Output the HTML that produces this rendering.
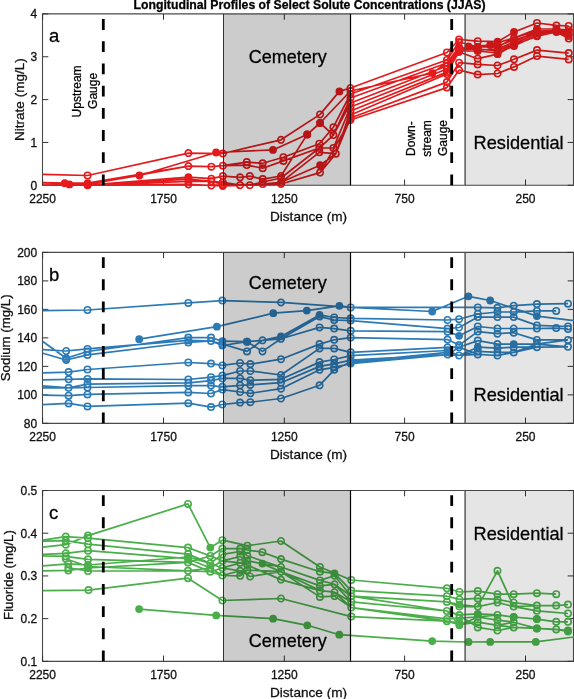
<!DOCTYPE html><html><head><meta charset="utf-8"><style>html,body{margin:0;padding:0;background:#fff;width:574px;height:699px;overflow:hidden}svg{display:block;will-change:transform}text{font-family:"Liberation Sans",sans-serif;stroke:#111;stroke-width:0.3;paint-order:stroke}</style></head><body>
<svg width="574" height="699" viewBox="0 0 574 699">
<rect width="574" height="699" fill="#fff"/>
<text x="309.6" y="8.6" font-size="12" font-weight="bold" text-anchor="middle" textLength="352" lengthAdjust="spacingAndGlyphs" fill="#000">Longitudinal Profiles of Select Solute Concentrations (JJAS)</text>
<g id="panel-a">
<path d="M42.5 13.9H573.5V185.3H42.5Z" fill="none" stroke="#4a4a4a" stroke-width="1.1"/>
<path d="M42.60 185.3v-5.8M42.60 13.9v5.8M163.50 185.3v-5.8M163.50 13.9v5.8M284.30 185.3v-5.8M284.30 13.9v5.8M404.60 185.3v-5.8M404.60 13.9v5.8M525.50 185.3v-5.8M525.50 13.9v5.8M42.5 185.30h5.8M573.5 185.30h-5.8M42.5 142.45h5.8M573.5 142.45h-5.8M42.5 99.60h5.8M573.5 99.60h-5.8M42.5 56.75h5.8M573.5 56.75h-5.8M42.5 13.90h5.8M573.5 13.90h-5.8" stroke="#333" stroke-width="1" fill="none"/>
<path d="M42.8 174.4 L87.6 175.5 L188.4 153.1 L222.9 153.5 L281.0 139.8 L320.1 114.4 L339.4 91.4 L350.5 88.0 L446.9 52.5 L459.1 39.5 L477.7 41.2 L497.6 41.7 L514.0 32.0 L537.0 23.0 L556.4 25.4 L568.7 26.0 M42.8 184.0 L69.4 184.4 L87.6 184.2 L139.4 175.5 L216.1 152.5 L273.0 149.9 L307.2 134.4 L320.1 123.0 L350.5 91.0 L432.5 73.1 L468.5 46.5 L490.2 45.0 L537.0 31.0 L574.0 30.0 M42.8 182.6 L64.8 183.2 L87.6 183.2 L188.4 166.1 L211.4 166.7 L222.9 165.7 L246.8 162.1 L262.7 163.3 L283.4 157.2 L319.3 143.7 L333.4 127.2 L350.5 94.0 L446.9 60.0 L459.1 42.0 L477.7 47.0 L497.6 47.0 L514.0 38.0 L537.0 29.0 L556.4 29.0 L568.7 30.0 M42.8 184.5 L87.6 184.5 L188.4 166.1 L211.4 166.7 L222.9 165.7 L246.8 165.1 L262.7 168.2 L283.4 160.9 L319.3 148.0 L333.4 135.1 L350.5 98.0 L446.9 63.0 L459.1 47.0 L477.7 50.0 L497.6 49.0 L514.0 42.0 L537.0 31.0 L556.4 31.0 L568.7 32.0 M42.8 185.0 L87.6 185.0 L188.4 177.1 L211.4 178.7 L222.9 176.1 L240.1 177.3 L249.9 176.1 L262.7 179.1 L281.0 176.0 L307.2 134.4 L320.1 123.0 L333.4 135.1 L350.5 103.0 L446.9 66.0 L459.1 49.0 L477.7 49.0 L497.6 51.0 L514.0 44.0 L537.0 33.0 L556.4 32.0 L568.7 34.0 M42.8 185.0 L87.6 185.0 L188.4 179.2 L211.4 181.3 L222.9 182.3 L240.1 185.2 L249.9 185.2 L262.7 182.0 L281.0 178.0 L319.3 148.0 L333.4 148.0 L350.5 107.0 L446.9 69.0 L459.1 51.0 L477.7 51.0 L497.6 53.0 L514.0 45.9 L537.0 35.0 L556.4 32.0 L568.7 36.0 M42.8 185.2 L87.6 185.2 L188.4 181.3 L211.4 181.3 L222.9 184.6 L240.1 185.2 L249.9 185.2 L262.7 184.0 L281.0 182.3 L319.3 152.3 L335.8 153.7 L350.5 111.0 L446.9 72.1 L459.1 52.0 L477.7 58.7 L497.6 54.2 L514.0 45.0 L537.0 36.2 L556.4 32.0 L568.7 38.6 M42.8 185.2 L87.6 185.2 L188.4 184.4 L211.4 185.5 L222.9 186.0 L249.9 185.2 L281.0 182.3 L320.1 165.2 L335.8 153.7 L350.5 115.0 L446.9 74.0 L459.1 50.0 L477.7 47.0 L497.6 46.0 L514.0 40.0 L537.0 33.0 L556.4 30.0 L568.7 34.0 M42.8 185.2 L87.6 185.2 L188.4 184.4 L211.4 185.5 L222.9 184.6 L249.9 185.2 L281.0 184.0 L320.1 172.6 L335.8 153.7 L350.5 118.0 L446.9 82.1 L459.1 62.7 L477.7 64.4 L497.6 65.5 L514.0 59.3 L537.0 50.1 L568.7 53.1 M42.8 185.2 L87.6 185.2 L188.4 184.4 L211.4 185.5 L222.9 184.6 L281.0 184.0 L320.1 172.6 L350.5 120.0 L446.9 87.6 L459.1 70.1 L477.7 74.6 L497.6 73.5 L514.0 66.9 L537.0 56.1 L568.7 59.4" fill="none" stroke="#e41a1c" stroke-width="1.7" stroke-linejoin="round"/>
<path d="M84.4 175.5a3.2 3.2 0 1 0 6.4 0a3.2 3.2 0 1 0 -6.4 0M185.2 153.1a3.2 3.2 0 1 0 6.4 0a3.2 3.2 0 1 0 -6.4 0M219.7 153.5a3.2 3.2 0 1 0 6.4 0a3.2 3.2 0 1 0 -6.4 0M277.8 139.8a3.2 3.2 0 1 0 6.4 0a3.2 3.2 0 1 0 -6.4 0M316.9 114.4a3.2 3.2 0 1 0 6.4 0a3.2 3.2 0 1 0 -6.4 0M347.3 88.0a3.2 3.2 0 1 0 6.4 0a3.2 3.2 0 1 0 -6.4 0M443.7 52.5a3.2 3.2 0 1 0 6.4 0a3.2 3.2 0 1 0 -6.4 0M455.9 39.5a3.2 3.2 0 1 0 6.4 0a3.2 3.2 0 1 0 -6.4 0M474.5 41.2a3.2 3.2 0 1 0 6.4 0a3.2 3.2 0 1 0 -6.4 0M533.8 23.0a3.2 3.2 0 1 0 6.4 0a3.2 3.2 0 1 0 -6.4 0M553.2 25.4a3.2 3.2 0 1 0 6.4 0a3.2 3.2 0 1 0 -6.4 0M565.5 26.0a3.2 3.2 0 1 0 6.4 0a3.2 3.2 0 1 0 -6.4 0M347.3 91.0a3.2 3.2 0 1 0 6.4 0a3.2 3.2 0 1 0 -6.4 0M185.2 166.1a3.2 3.2 0 1 0 6.4 0a3.2 3.2 0 1 0 -6.4 0M208.2 166.7a3.2 3.2 0 1 0 6.4 0a3.2 3.2 0 1 0 -6.4 0M219.7 165.7a3.2 3.2 0 1 0 6.4 0a3.2 3.2 0 1 0 -6.4 0M243.6 162.1a3.2 3.2 0 1 0 6.4 0a3.2 3.2 0 1 0 -6.4 0M259.5 163.3a3.2 3.2 0 1 0 6.4 0a3.2 3.2 0 1 0 -6.4 0M280.2 157.2a3.2 3.2 0 1 0 6.4 0a3.2 3.2 0 1 0 -6.4 0M316.1 143.7a3.2 3.2 0 1 0 6.4 0a3.2 3.2 0 1 0 -6.4 0M330.2 127.2a3.2 3.2 0 1 0 6.4 0a3.2 3.2 0 1 0 -6.4 0M347.3 94.0a3.2 3.2 0 1 0 6.4 0a3.2 3.2 0 1 0 -6.4 0M443.7 60.0a3.2 3.2 0 1 0 6.4 0a3.2 3.2 0 1 0 -6.4 0M455.9 42.0a3.2 3.2 0 1 0 6.4 0a3.2 3.2 0 1 0 -6.4 0M474.5 47.0a3.2 3.2 0 1 0 6.4 0a3.2 3.2 0 1 0 -6.4 0M510.8 38.0a3.2 3.2 0 1 0 6.4 0a3.2 3.2 0 1 0 -6.4 0M533.8 29.0a3.2 3.2 0 1 0 6.4 0a3.2 3.2 0 1 0 -6.4 0M553.2 29.0a3.2 3.2 0 1 0 6.4 0a3.2 3.2 0 1 0 -6.4 0M565.5 30.0a3.2 3.2 0 1 0 6.4 0a3.2 3.2 0 1 0 -6.4 0M84.4 184.5a3.2 3.2 0 1 0 6.4 0a3.2 3.2 0 1 0 -6.4 0M185.2 166.1a3.2 3.2 0 1 0 6.4 0a3.2 3.2 0 1 0 -6.4 0M208.2 166.7a3.2 3.2 0 1 0 6.4 0a3.2 3.2 0 1 0 -6.4 0M219.7 165.7a3.2 3.2 0 1 0 6.4 0a3.2 3.2 0 1 0 -6.4 0M243.6 165.1a3.2 3.2 0 1 0 6.4 0a3.2 3.2 0 1 0 -6.4 0M259.5 168.2a3.2 3.2 0 1 0 6.4 0a3.2 3.2 0 1 0 -6.4 0M280.2 160.9a3.2 3.2 0 1 0 6.4 0a3.2 3.2 0 1 0 -6.4 0M316.1 148.0a3.2 3.2 0 1 0 6.4 0a3.2 3.2 0 1 0 -6.4 0M330.2 135.1a3.2 3.2 0 1 0 6.4 0a3.2 3.2 0 1 0 -6.4 0M347.3 98.0a3.2 3.2 0 1 0 6.4 0a3.2 3.2 0 1 0 -6.4 0M443.7 63.0a3.2 3.2 0 1 0 6.4 0a3.2 3.2 0 1 0 -6.4 0M455.9 47.0a3.2 3.2 0 1 0 6.4 0a3.2 3.2 0 1 0 -6.4 0M474.5 50.0a3.2 3.2 0 1 0 6.4 0a3.2 3.2 0 1 0 -6.4 0M494.4 49.0a3.2 3.2 0 1 0 6.4 0a3.2 3.2 0 1 0 -6.4 0M533.8 31.0a3.2 3.2 0 1 0 6.4 0a3.2 3.2 0 1 0 -6.4 0M553.2 31.0a3.2 3.2 0 1 0 6.4 0a3.2 3.2 0 1 0 -6.4 0M84.4 185.0a3.2 3.2 0 1 0 6.4 0a3.2 3.2 0 1 0 -6.4 0M208.2 178.7a3.2 3.2 0 1 0 6.4 0a3.2 3.2 0 1 0 -6.4 0M219.7 176.1a3.2 3.2 0 1 0 6.4 0a3.2 3.2 0 1 0 -6.4 0M236.9 177.3a3.2 3.2 0 1 0 6.4 0a3.2 3.2 0 1 0 -6.4 0M246.7 176.1a3.2 3.2 0 1 0 6.4 0a3.2 3.2 0 1 0 -6.4 0M259.5 179.1a3.2 3.2 0 1 0 6.4 0a3.2 3.2 0 1 0 -6.4 0M277.8 176.0a3.2 3.2 0 1 0 6.4 0a3.2 3.2 0 1 0 -6.4 0M304.0 134.4a3.2 3.2 0 1 0 6.4 0a3.2 3.2 0 1 0 -6.4 0M316.9 123.0a3.2 3.2 0 1 0 6.4 0a3.2 3.2 0 1 0 -6.4 0M330.2 135.1a3.2 3.2 0 1 0 6.4 0a3.2 3.2 0 1 0 -6.4 0M347.3 103.0a3.2 3.2 0 1 0 6.4 0a3.2 3.2 0 1 0 -6.4 0M443.7 66.0a3.2 3.2 0 1 0 6.4 0a3.2 3.2 0 1 0 -6.4 0M553.2 32.0a3.2 3.2 0 1 0 6.4 0a3.2 3.2 0 1 0 -6.4 0M84.4 185.0a3.2 3.2 0 1 0 6.4 0a3.2 3.2 0 1 0 -6.4 0M185.2 179.2a3.2 3.2 0 1 0 6.4 0a3.2 3.2 0 1 0 -6.4 0M208.2 181.3a3.2 3.2 0 1 0 6.4 0a3.2 3.2 0 1 0 -6.4 0M219.7 182.3a3.2 3.2 0 1 0 6.4 0a3.2 3.2 0 1 0 -6.4 0M236.9 185.2a3.2 3.2 0 1 0 6.4 0a3.2 3.2 0 1 0 -6.4 0M246.7 185.2a3.2 3.2 0 1 0 6.4 0a3.2 3.2 0 1 0 -6.4 0M259.5 182.0a3.2 3.2 0 1 0 6.4 0a3.2 3.2 0 1 0 -6.4 0M277.8 178.0a3.2 3.2 0 1 0 6.4 0a3.2 3.2 0 1 0 -6.4 0M316.1 148.0a3.2 3.2 0 1 0 6.4 0a3.2 3.2 0 1 0 -6.4 0M330.2 148.0a3.2 3.2 0 1 0 6.4 0a3.2 3.2 0 1 0 -6.4 0M347.3 107.0a3.2 3.2 0 1 0 6.4 0a3.2 3.2 0 1 0 -6.4 0M443.7 69.0a3.2 3.2 0 1 0 6.4 0a3.2 3.2 0 1 0 -6.4 0M455.9 51.0a3.2 3.2 0 1 0 6.4 0a3.2 3.2 0 1 0 -6.4 0M474.5 51.0a3.2 3.2 0 1 0 6.4 0a3.2 3.2 0 1 0 -6.4 0M494.4 53.0a3.2 3.2 0 1 0 6.4 0a3.2 3.2 0 1 0 -6.4 0M510.8 45.9a3.2 3.2 0 1 0 6.4 0a3.2 3.2 0 1 0 -6.4 0M533.8 35.0a3.2 3.2 0 1 0 6.4 0a3.2 3.2 0 1 0 -6.4 0M553.2 32.0a3.2 3.2 0 1 0 6.4 0a3.2 3.2 0 1 0 -6.4 0M565.5 36.0a3.2 3.2 0 1 0 6.4 0a3.2 3.2 0 1 0 -6.4 0M84.4 185.2a3.2 3.2 0 1 0 6.4 0a3.2 3.2 0 1 0 -6.4 0M185.2 181.3a3.2 3.2 0 1 0 6.4 0a3.2 3.2 0 1 0 -6.4 0M208.2 181.3a3.2 3.2 0 1 0 6.4 0a3.2 3.2 0 1 0 -6.4 0M219.7 184.6a3.2 3.2 0 1 0 6.4 0a3.2 3.2 0 1 0 -6.4 0M236.9 185.2a3.2 3.2 0 1 0 6.4 0a3.2 3.2 0 1 0 -6.4 0M246.7 185.2a3.2 3.2 0 1 0 6.4 0a3.2 3.2 0 1 0 -6.4 0M259.5 184.0a3.2 3.2 0 1 0 6.4 0a3.2 3.2 0 1 0 -6.4 0M277.8 182.3a3.2 3.2 0 1 0 6.4 0a3.2 3.2 0 1 0 -6.4 0M316.1 152.3a3.2 3.2 0 1 0 6.4 0a3.2 3.2 0 1 0 -6.4 0M332.6 153.7a3.2 3.2 0 1 0 6.4 0a3.2 3.2 0 1 0 -6.4 0M347.3 111.0a3.2 3.2 0 1 0 6.4 0a3.2 3.2 0 1 0 -6.4 0M443.7 72.1a3.2 3.2 0 1 0 6.4 0a3.2 3.2 0 1 0 -6.4 0M455.9 52.0a3.2 3.2 0 1 0 6.4 0a3.2 3.2 0 1 0 -6.4 0M474.5 58.7a3.2 3.2 0 1 0 6.4 0a3.2 3.2 0 1 0 -6.4 0M510.8 45.0a3.2 3.2 0 1 0 6.4 0a3.2 3.2 0 1 0 -6.4 0M533.8 36.2a3.2 3.2 0 1 0 6.4 0a3.2 3.2 0 1 0 -6.4 0M553.2 32.0a3.2 3.2 0 1 0 6.4 0a3.2 3.2 0 1 0 -6.4 0M565.5 38.6a3.2 3.2 0 1 0 6.4 0a3.2 3.2 0 1 0 -6.4 0M84.4 185.2a3.2 3.2 0 1 0 6.4 0a3.2 3.2 0 1 0 -6.4 0M185.2 184.4a3.2 3.2 0 1 0 6.4 0a3.2 3.2 0 1 0 -6.4 0M208.2 185.5a3.2 3.2 0 1 0 6.4 0a3.2 3.2 0 1 0 -6.4 0M219.7 186.0a3.2 3.2 0 1 0 6.4 0a3.2 3.2 0 1 0 -6.4 0M246.7 185.2a3.2 3.2 0 1 0 6.4 0a3.2 3.2 0 1 0 -6.4 0M277.8 182.3a3.2 3.2 0 1 0 6.4 0a3.2 3.2 0 1 0 -6.4 0M332.6 153.7a3.2 3.2 0 1 0 6.4 0a3.2 3.2 0 1 0 -6.4 0M347.3 115.0a3.2 3.2 0 1 0 6.4 0a3.2 3.2 0 1 0 -6.4 0M443.7 74.0a3.2 3.2 0 1 0 6.4 0a3.2 3.2 0 1 0 -6.4 0M455.9 50.0a3.2 3.2 0 1 0 6.4 0a3.2 3.2 0 1 0 -6.4 0M494.4 46.0a3.2 3.2 0 1 0 6.4 0a3.2 3.2 0 1 0 -6.4 0M510.8 40.0a3.2 3.2 0 1 0 6.4 0a3.2 3.2 0 1 0 -6.4 0M533.8 33.0a3.2 3.2 0 1 0 6.4 0a3.2 3.2 0 1 0 -6.4 0M553.2 30.0a3.2 3.2 0 1 0 6.4 0a3.2 3.2 0 1 0 -6.4 0M565.5 34.0a3.2 3.2 0 1 0 6.4 0a3.2 3.2 0 1 0 -6.4 0M84.4 185.2a3.2 3.2 0 1 0 6.4 0a3.2 3.2 0 1 0 -6.4 0M185.2 184.4a3.2 3.2 0 1 0 6.4 0a3.2 3.2 0 1 0 -6.4 0M208.2 185.5a3.2 3.2 0 1 0 6.4 0a3.2 3.2 0 1 0 -6.4 0M219.7 184.6a3.2 3.2 0 1 0 6.4 0a3.2 3.2 0 1 0 -6.4 0M246.7 185.2a3.2 3.2 0 1 0 6.4 0a3.2 3.2 0 1 0 -6.4 0M277.8 184.0a3.2 3.2 0 1 0 6.4 0a3.2 3.2 0 1 0 -6.4 0M316.9 172.6a3.2 3.2 0 1 0 6.4 0a3.2 3.2 0 1 0 -6.4 0M332.6 153.7a3.2 3.2 0 1 0 6.4 0a3.2 3.2 0 1 0 -6.4 0M347.3 118.0a3.2 3.2 0 1 0 6.4 0a3.2 3.2 0 1 0 -6.4 0M443.7 82.1a3.2 3.2 0 1 0 6.4 0a3.2 3.2 0 1 0 -6.4 0M455.9 62.7a3.2 3.2 0 1 0 6.4 0a3.2 3.2 0 1 0 -6.4 0M474.5 64.4a3.2 3.2 0 1 0 6.4 0a3.2 3.2 0 1 0 -6.4 0M494.4 65.5a3.2 3.2 0 1 0 6.4 0a3.2 3.2 0 1 0 -6.4 0M510.8 59.3a3.2 3.2 0 1 0 6.4 0a3.2 3.2 0 1 0 -6.4 0M533.8 50.1a3.2 3.2 0 1 0 6.4 0a3.2 3.2 0 1 0 -6.4 0M565.5 53.1a3.2 3.2 0 1 0 6.4 0a3.2 3.2 0 1 0 -6.4 0M84.4 185.2a3.2 3.2 0 1 0 6.4 0a3.2 3.2 0 1 0 -6.4 0M185.2 184.4a3.2 3.2 0 1 0 6.4 0a3.2 3.2 0 1 0 -6.4 0M208.2 185.5a3.2 3.2 0 1 0 6.4 0a3.2 3.2 0 1 0 -6.4 0M219.7 184.6a3.2 3.2 0 1 0 6.4 0a3.2 3.2 0 1 0 -6.4 0M277.8 184.0a3.2 3.2 0 1 0 6.4 0a3.2 3.2 0 1 0 -6.4 0M316.9 172.6a3.2 3.2 0 1 0 6.4 0a3.2 3.2 0 1 0 -6.4 0M347.3 120.0a3.2 3.2 0 1 0 6.4 0a3.2 3.2 0 1 0 -6.4 0M443.7 87.6a3.2 3.2 0 1 0 6.4 0a3.2 3.2 0 1 0 -6.4 0M455.9 70.1a3.2 3.2 0 1 0 6.4 0a3.2 3.2 0 1 0 -6.4 0M474.5 74.6a3.2 3.2 0 1 0 6.4 0a3.2 3.2 0 1 0 -6.4 0M494.4 73.5a3.2 3.2 0 1 0 6.4 0a3.2 3.2 0 1 0 -6.4 0M510.8 66.9a3.2 3.2 0 1 0 6.4 0a3.2 3.2 0 1 0 -6.4 0M533.8 56.1a3.2 3.2 0 1 0 6.4 0a3.2 3.2 0 1 0 -6.4 0M565.5 59.4a3.2 3.2 0 1 0 6.4 0a3.2 3.2 0 1 0 -6.4 0" fill="none" stroke="#e41a1c" stroke-width="1.6"/>
<path d="M335.5 91.4a3.9 3.9 0 1 0 7.8 0a3.9 3.9 0 1 0 -7.8 0M493.7 41.7a3.9 3.9 0 1 0 7.8 0a3.9 3.9 0 1 0 -7.8 0M510.1 32.0a3.9 3.9 0 1 0 7.8 0a3.9 3.9 0 1 0 -7.8 0M65.5 184.4a3.9 3.9 0 1 0 7.8 0a3.9 3.9 0 1 0 -7.8 0M83.7 184.2a3.9 3.9 0 1 0 7.8 0a3.9 3.9 0 1 0 -7.8 0M135.5 175.5a3.9 3.9 0 1 0 7.8 0a3.9 3.9 0 1 0 -7.8 0M212.2 152.5a3.9 3.9 0 1 0 7.8 0a3.9 3.9 0 1 0 -7.8 0M269.1 149.9a3.9 3.9 0 1 0 7.8 0a3.9 3.9 0 1 0 -7.8 0M303.3 134.4a3.9 3.9 0 1 0 7.8 0a3.9 3.9 0 1 0 -7.8 0M316.2 123.0a3.9 3.9 0 1 0 7.8 0a3.9 3.9 0 1 0 -7.8 0M428.6 73.1a3.9 3.9 0 1 0 7.8 0a3.9 3.9 0 1 0 -7.8 0M464.6 46.5a3.9 3.9 0 1 0 7.8 0a3.9 3.9 0 1 0 -7.8 0M486.3 45.0a3.9 3.9 0 1 0 7.8 0a3.9 3.9 0 1 0 -7.8 0M533.1 31.0a3.9 3.9 0 1 0 7.8 0a3.9 3.9 0 1 0 -7.8 0M60.9 183.2a3.9 3.9 0 1 0 7.8 0a3.9 3.9 0 1 0 -7.8 0M83.7 183.2a3.9 3.9 0 1 0 7.8 0a3.9 3.9 0 1 0 -7.8 0M493.7 47.0a3.9 3.9 0 1 0 7.8 0a3.9 3.9 0 1 0 -7.8 0M510.1 42.0a3.9 3.9 0 1 0 7.8 0a3.9 3.9 0 1 0 -7.8 0M564.8 32.0a3.9 3.9 0 1 0 7.8 0a3.9 3.9 0 1 0 -7.8 0M184.5 177.1a3.9 3.9 0 1 0 7.8 0a3.9 3.9 0 1 0 -7.8 0M455.2 49.0a3.9 3.9 0 1 0 7.8 0a3.9 3.9 0 1 0 -7.8 0M473.8 49.0a3.9 3.9 0 1 0 7.8 0a3.9 3.9 0 1 0 -7.8 0M493.7 51.0a3.9 3.9 0 1 0 7.8 0a3.9 3.9 0 1 0 -7.8 0M510.1 44.0a3.9 3.9 0 1 0 7.8 0a3.9 3.9 0 1 0 -7.8 0M533.1 33.0a3.9 3.9 0 1 0 7.8 0a3.9 3.9 0 1 0 -7.8 0M564.8 34.0a3.9 3.9 0 1 0 7.8 0a3.9 3.9 0 1 0 -7.8 0M493.7 54.2a3.9 3.9 0 1 0 7.8 0a3.9 3.9 0 1 0 -7.8 0M316.2 165.2a3.9 3.9 0 1 0 7.8 0a3.9 3.9 0 1 0 -7.8 0M473.8 47.0a3.9 3.9 0 1 0 7.8 0a3.9 3.9 0 1 0 -7.8 0" fill="#e41a1c" stroke="none"/>
<rect x="223.5" y="13.9" width="127.0" height="171.4" fill="#000" fill-opacity="0.2"/>
<rect x="465.1" y="13.9" width="108.39999999999998" height="171.4" fill="#000" fill-opacity="0.1"/>
<line x1="223.5" y1="13.9" x2="223.5" y2="185.3" stroke="#333" stroke-width="1.0"/>
<line x1="350.5" y1="13.9" x2="350.5" y2="185.3" stroke="#000" stroke-width="1.2"/>
<line x1="465.1" y1="13.9" x2="465.1" y2="185.3" stroke="#4d4d4d" stroke-width="1.4"/>
<path d="M103.3 185.30V174.50M103.3 163.10V152.30M103.3 140.90V130.10M103.3 118.70V107.90M103.3 96.50V85.70M103.3 74.30V63.50M103.3 52.10V41.30M103.3 29.90V19.10" stroke="#000" stroke-width="2.8" fill="none"/>
<path d="M451.7 185.30V174.50M451.7 163.10V152.30M451.7 140.90V130.10M451.7 118.70V107.90M451.7 96.50V85.70M451.7 74.30V63.50M451.7 52.10V41.30M451.7 29.90V19.10" stroke="#000" stroke-width="2.8" fill="none"/>
<text x="42.60" y="202.70" font-size="12" text-anchor="middle" fill="#111">2250</text>
<text x="163.50" y="202.70" font-size="12" text-anchor="middle" fill="#111">1750</text>
<text x="284.30" y="202.70" font-size="12" text-anchor="middle" fill="#111">1250</text>
<text x="404.60" y="202.70" font-size="12" text-anchor="middle" fill="#111">750</text>
<text x="525.50" y="202.70" font-size="12" text-anchor="middle" fill="#111">250</text>
<text x="37.2" y="189.60" font-size="12" text-anchor="end" fill="#111">0</text>
<text x="37.2" y="146.75" font-size="12" text-anchor="end" fill="#111">1</text>
<text x="37.2" y="103.90" font-size="12" text-anchor="end" fill="#111">2</text>
<text x="37.2" y="61.05" font-size="12" text-anchor="end" fill="#111">3</text>
<text x="37.2" y="18.20" font-size="12" text-anchor="end" fill="#111">4</text>
<text x="308.5" y="220.60" font-size="13.6" text-anchor="middle" fill="#111">Distance (m)</text>
<text transform="translate(23.7 99.60) rotate(-90)" x="0" y="0" font-size="13.55" text-anchor="middle" fill="#111">Nitrate (mg/L)</text>
<text x="49" y="42.20" font-size="18.5" fill="#000">a</text>
</g>
<g id="panel-b">
<path d="M42.5 252.4H573.5V423.35H42.5Z" fill="none" stroke="#4a4a4a" stroke-width="1.1"/>
<path d="M42.60 423.35v-5.8M42.60 252.4v5.8M163.50 423.35v-5.8M163.50 252.4v5.8M284.30 423.35v-5.8M284.30 252.4v5.8M404.60 423.35v-5.8M404.60 252.4v5.8M525.50 423.35v-5.8M525.50 252.4v5.8M42.5 423.35h5.8M573.5 423.35h-5.8M42.5 394.86h5.8M573.5 394.86h-5.8M42.5 366.37h5.8M573.5 366.37h-5.8M42.5 337.88h5.8M573.5 337.88h-5.8M42.5 309.38h5.8M573.5 309.38h-5.8M42.5 280.89h5.8M573.5 280.89h-5.8M42.5 252.40h5.8M573.5 252.40h-5.8" stroke="#333" stroke-width="1" fill="none"/>
<path d="M42.8 310.6 L87.5 310.0 L188.3 302.9 L222.4 300.6 L281.0 302.4 L350.7 307.4 L432.2 311.5 L468.4 296.3 L490.2 300.5 L536.9 316.1 L574.0 320.7 M139.2 339.2 L216.9 326.7 L273.3 313.2 L306.8 310.6 L339.4 305.8 L350.7 307.4 L477.8 307.4 L497.5 307.8 L513.7 305.7 L536.9 304.1 L568.0 303.7 M42.8 341.5 L66.1 358.3 L87.5 351.5 L188.3 337.6 L211.0 337.6 L222.4 341.2 L247.0 341.7 L262.5 340.3 L281.0 336.4 L319.6 314.9 L334.2 317.5 L350.7 318.3 L447.6 320.0 L459.1 319.2 L477.8 314.0 L497.5 312.0 L513.7 312.0 L536.9 310.9 L556.2 310.9 M42.8 349.7 L66.1 351.0 L87.5 348.9 L188.3 340.3 L211.0 341.0 L222.4 344.0 L247.0 351.4 L262.5 340.3 L281.0 338.8 L319.6 316.6 L334.2 320.0 L350.7 320.6 L447.6 328.6 L459.1 327.5 L477.8 317.1 L497.5 317.1 L513.7 317.1 L536.9 325.4 L568.0 326.5 M42.8 353.2 L66.1 360.0 L87.5 354.9 L188.3 342.5 L211.0 341.0 L222.4 345.5 L247.0 341.7 L262.5 351.4 L281.0 338.8 L319.6 327.4 L334.2 328.6 L350.7 330.8 L447.6 331.7 L459.1 335.8 L477.8 326.5 L497.5 328.5 L513.7 328.5 L536.9 328.5 L556.2 328.1 L568.0 329.0 M42.8 372.9 L68.6 372.1 L87.5 369.5 L188.3 362.5 L211.0 363.6 L222.4 365.4 L240.1 363.0 L250.4 364.1 L281.0 359.2 L319.6 344.1 L334.2 339.8 L350.7 337.6 L447.6 339.6 L459.1 345.1 L477.8 331.6 L497.5 333.7 L513.7 332.7 L536.9 339.9 L568.0 339.9 M42.8 379.8 L68.6 379.3 L87.5 378.9 L188.3 379.5 L211.0 377.2 L222.4 375.6 L240.1 371.0 L250.4 371.0 L281.0 375.0 L319.6 348.4 L334.2 348.4 L350.7 352.3 L447.6 347.4 L459.1 347.2 L477.8 340.6 L497.5 344.1 L513.7 344.1 L536.9 344.1 L568.0 346.8 M42.8 385.8 L68.6 387.8 L87.5 384.1 L188.3 382.9 L211.0 380.6 L222.4 378.4 L240.1 378.4 L250.4 380.3 L281.0 379.3 L319.6 362.1 L334.2 359.5 L350.7 355.7 L447.6 350.5 L459.1 355.5 L477.8 347.2 L497.5 348.2 L513.7 347.2 L536.9 347.2 L568.0 346.8 M42.8 387.8 L68.6 387.8 L87.5 387.5 L188.3 385.6 L211.0 385.6 L222.4 386.8 L240.1 385.3 L250.4 384.9 L281.0 382.7 L319.6 366.4 L334.2 363.8 L350.7 360.2 L447.6 354.6 L459.1 355.5 L477.8 351.3 L497.5 352.4 L513.7 352.4 L536.9 347.2 L568.0 346.8 M42.8 395.2 L68.6 395.7 L87.5 394.4 L188.3 392.4 L211.0 393.5 L222.4 389.6 L240.1 392.0 L250.4 393.3 L281.0 388.7 L319.6 369.8 L334.2 367.3 L350.7 363.6 L447.6 354.6 L459.1 347.2 L477.8 354.4 L497.5 355.5 L513.7 352.4 L536.9 344.1 L568.0 339.9 M42.8 404.6 L68.6 403.4 L87.5 406.4 L188.3 403.2 L211.0 407.1 L222.4 404.5 L240.1 402.6 L250.4 402.2 L281.0 398.5 L319.6 385.3 L334.2 369.8 L350.7 362.1 L447.6 352.3 L459.1 355.5 L477.8 354.4 L497.5 355.5 L513.7 352.4 L536.9 347.2 L568.0 346.8" fill="none" stroke="#2c7bb6" stroke-width="1.7" stroke-linejoin="round"/>
<path d="M84.3 310.0a3.2 3.2 0 1 0 6.4 0a3.2 3.2 0 1 0 -6.4 0M185.1 302.9a3.2 3.2 0 1 0 6.4 0a3.2 3.2 0 1 0 -6.4 0M219.2 300.6a3.2 3.2 0 1 0 6.4 0a3.2 3.2 0 1 0 -6.4 0M277.8 302.4a3.2 3.2 0 1 0 6.4 0a3.2 3.2 0 1 0 -6.4 0M347.5 307.4a3.2 3.2 0 1 0 6.4 0a3.2 3.2 0 1 0 -6.4 0M347.5 307.4a3.2 3.2 0 1 0 6.4 0a3.2 3.2 0 1 0 -6.4 0M474.6 307.4a3.2 3.2 0 1 0 6.4 0a3.2 3.2 0 1 0 -6.4 0M494.3 307.8a3.2 3.2 0 1 0 6.4 0a3.2 3.2 0 1 0 -6.4 0M510.5 305.7a3.2 3.2 0 1 0 6.4 0a3.2 3.2 0 1 0 -6.4 0M533.7 304.1a3.2 3.2 0 1 0 6.4 0a3.2 3.2 0 1 0 -6.4 0M564.8 303.7a3.2 3.2 0 1 0 6.4 0a3.2 3.2 0 1 0 -6.4 0M62.9 358.3a3.2 3.2 0 1 0 6.4 0a3.2 3.2 0 1 0 -6.4 0M84.3 351.5a3.2 3.2 0 1 0 6.4 0a3.2 3.2 0 1 0 -6.4 0M185.1 337.6a3.2 3.2 0 1 0 6.4 0a3.2 3.2 0 1 0 -6.4 0M207.8 337.6a3.2 3.2 0 1 0 6.4 0a3.2 3.2 0 1 0 -6.4 0M259.3 340.3a3.2 3.2 0 1 0 6.4 0a3.2 3.2 0 1 0 -6.4 0M331.0 317.5a3.2 3.2 0 1 0 6.4 0a3.2 3.2 0 1 0 -6.4 0M347.5 318.3a3.2 3.2 0 1 0 6.4 0a3.2 3.2 0 1 0 -6.4 0M444.4 320.0a3.2 3.2 0 1 0 6.4 0a3.2 3.2 0 1 0 -6.4 0M455.9 319.2a3.2 3.2 0 1 0 6.4 0a3.2 3.2 0 1 0 -6.4 0M474.6 314.0a3.2 3.2 0 1 0 6.4 0a3.2 3.2 0 1 0 -6.4 0M494.3 312.0a3.2 3.2 0 1 0 6.4 0a3.2 3.2 0 1 0 -6.4 0M510.5 312.0a3.2 3.2 0 1 0 6.4 0a3.2 3.2 0 1 0 -6.4 0M533.7 310.9a3.2 3.2 0 1 0 6.4 0a3.2 3.2 0 1 0 -6.4 0M553.0 310.9a3.2 3.2 0 1 0 6.4 0a3.2 3.2 0 1 0 -6.4 0M62.9 351.0a3.2 3.2 0 1 0 6.4 0a3.2 3.2 0 1 0 -6.4 0M84.3 348.9a3.2 3.2 0 1 0 6.4 0a3.2 3.2 0 1 0 -6.4 0M185.1 340.3a3.2 3.2 0 1 0 6.4 0a3.2 3.2 0 1 0 -6.4 0M207.8 341.0a3.2 3.2 0 1 0 6.4 0a3.2 3.2 0 1 0 -6.4 0M219.2 344.0a3.2 3.2 0 1 0 6.4 0a3.2 3.2 0 1 0 -6.4 0M243.8 351.4a3.2 3.2 0 1 0 6.4 0a3.2 3.2 0 1 0 -6.4 0M259.3 340.3a3.2 3.2 0 1 0 6.4 0a3.2 3.2 0 1 0 -6.4 0M277.8 338.8a3.2 3.2 0 1 0 6.4 0a3.2 3.2 0 1 0 -6.4 0M316.4 316.6a3.2 3.2 0 1 0 6.4 0a3.2 3.2 0 1 0 -6.4 0M331.0 320.0a3.2 3.2 0 1 0 6.4 0a3.2 3.2 0 1 0 -6.4 0M347.5 320.6a3.2 3.2 0 1 0 6.4 0a3.2 3.2 0 1 0 -6.4 0M444.4 328.6a3.2 3.2 0 1 0 6.4 0a3.2 3.2 0 1 0 -6.4 0M455.9 327.5a3.2 3.2 0 1 0 6.4 0a3.2 3.2 0 1 0 -6.4 0M474.6 317.1a3.2 3.2 0 1 0 6.4 0a3.2 3.2 0 1 0 -6.4 0M494.3 317.1a3.2 3.2 0 1 0 6.4 0a3.2 3.2 0 1 0 -6.4 0M510.5 317.1a3.2 3.2 0 1 0 6.4 0a3.2 3.2 0 1 0 -6.4 0M533.7 325.4a3.2 3.2 0 1 0 6.4 0a3.2 3.2 0 1 0 -6.4 0M564.8 326.5a3.2 3.2 0 1 0 6.4 0a3.2 3.2 0 1 0 -6.4 0M62.9 360.0a3.2 3.2 0 1 0 6.4 0a3.2 3.2 0 1 0 -6.4 0M84.3 354.9a3.2 3.2 0 1 0 6.4 0a3.2 3.2 0 1 0 -6.4 0M185.1 342.5a3.2 3.2 0 1 0 6.4 0a3.2 3.2 0 1 0 -6.4 0M207.8 341.0a3.2 3.2 0 1 0 6.4 0a3.2 3.2 0 1 0 -6.4 0M219.2 345.5a3.2 3.2 0 1 0 6.4 0a3.2 3.2 0 1 0 -6.4 0M243.8 341.7a3.2 3.2 0 1 0 6.4 0a3.2 3.2 0 1 0 -6.4 0M259.3 351.4a3.2 3.2 0 1 0 6.4 0a3.2 3.2 0 1 0 -6.4 0M277.8 338.8a3.2 3.2 0 1 0 6.4 0a3.2 3.2 0 1 0 -6.4 0M316.4 327.4a3.2 3.2 0 1 0 6.4 0a3.2 3.2 0 1 0 -6.4 0M331.0 328.6a3.2 3.2 0 1 0 6.4 0a3.2 3.2 0 1 0 -6.4 0M347.5 330.8a3.2 3.2 0 1 0 6.4 0a3.2 3.2 0 1 0 -6.4 0M444.4 331.7a3.2 3.2 0 1 0 6.4 0a3.2 3.2 0 1 0 -6.4 0M474.6 326.5a3.2 3.2 0 1 0 6.4 0a3.2 3.2 0 1 0 -6.4 0M494.3 328.5a3.2 3.2 0 1 0 6.4 0a3.2 3.2 0 1 0 -6.4 0M510.5 328.5a3.2 3.2 0 1 0 6.4 0a3.2 3.2 0 1 0 -6.4 0M533.7 328.5a3.2 3.2 0 1 0 6.4 0a3.2 3.2 0 1 0 -6.4 0M553.0 328.1a3.2 3.2 0 1 0 6.4 0a3.2 3.2 0 1 0 -6.4 0M564.8 329.0a3.2 3.2 0 1 0 6.4 0a3.2 3.2 0 1 0 -6.4 0M65.4 372.1a3.2 3.2 0 1 0 6.4 0a3.2 3.2 0 1 0 -6.4 0M84.3 369.5a3.2 3.2 0 1 0 6.4 0a3.2 3.2 0 1 0 -6.4 0M185.1 362.5a3.2 3.2 0 1 0 6.4 0a3.2 3.2 0 1 0 -6.4 0M207.8 363.6a3.2 3.2 0 1 0 6.4 0a3.2 3.2 0 1 0 -6.4 0M219.2 365.4a3.2 3.2 0 1 0 6.4 0a3.2 3.2 0 1 0 -6.4 0M236.9 363.0a3.2 3.2 0 1 0 6.4 0a3.2 3.2 0 1 0 -6.4 0M247.2 364.1a3.2 3.2 0 1 0 6.4 0a3.2 3.2 0 1 0 -6.4 0M277.8 359.2a3.2 3.2 0 1 0 6.4 0a3.2 3.2 0 1 0 -6.4 0M316.4 344.1a3.2 3.2 0 1 0 6.4 0a3.2 3.2 0 1 0 -6.4 0M331.0 339.8a3.2 3.2 0 1 0 6.4 0a3.2 3.2 0 1 0 -6.4 0M347.5 337.6a3.2 3.2 0 1 0 6.4 0a3.2 3.2 0 1 0 -6.4 0M444.4 339.6a3.2 3.2 0 1 0 6.4 0a3.2 3.2 0 1 0 -6.4 0M455.9 345.1a3.2 3.2 0 1 0 6.4 0a3.2 3.2 0 1 0 -6.4 0M474.6 331.6a3.2 3.2 0 1 0 6.4 0a3.2 3.2 0 1 0 -6.4 0M494.3 333.7a3.2 3.2 0 1 0 6.4 0a3.2 3.2 0 1 0 -6.4 0M510.5 332.7a3.2 3.2 0 1 0 6.4 0a3.2 3.2 0 1 0 -6.4 0M533.7 339.9a3.2 3.2 0 1 0 6.4 0a3.2 3.2 0 1 0 -6.4 0M564.8 339.9a3.2 3.2 0 1 0 6.4 0a3.2 3.2 0 1 0 -6.4 0M65.4 379.3a3.2 3.2 0 1 0 6.4 0a3.2 3.2 0 1 0 -6.4 0M84.3 378.9a3.2 3.2 0 1 0 6.4 0a3.2 3.2 0 1 0 -6.4 0M185.1 379.5a3.2 3.2 0 1 0 6.4 0a3.2 3.2 0 1 0 -6.4 0M207.8 377.2a3.2 3.2 0 1 0 6.4 0a3.2 3.2 0 1 0 -6.4 0M219.2 375.6a3.2 3.2 0 1 0 6.4 0a3.2 3.2 0 1 0 -6.4 0M236.9 371.0a3.2 3.2 0 1 0 6.4 0a3.2 3.2 0 1 0 -6.4 0M247.2 371.0a3.2 3.2 0 1 0 6.4 0a3.2 3.2 0 1 0 -6.4 0M277.8 375.0a3.2 3.2 0 1 0 6.4 0a3.2 3.2 0 1 0 -6.4 0M316.4 348.4a3.2 3.2 0 1 0 6.4 0a3.2 3.2 0 1 0 -6.4 0M331.0 348.4a3.2 3.2 0 1 0 6.4 0a3.2 3.2 0 1 0 -6.4 0M347.5 352.3a3.2 3.2 0 1 0 6.4 0a3.2 3.2 0 1 0 -6.4 0M444.4 347.4a3.2 3.2 0 1 0 6.4 0a3.2 3.2 0 1 0 -6.4 0M455.9 347.2a3.2 3.2 0 1 0 6.4 0a3.2 3.2 0 1 0 -6.4 0M474.6 340.6a3.2 3.2 0 1 0 6.4 0a3.2 3.2 0 1 0 -6.4 0M494.3 344.1a3.2 3.2 0 1 0 6.4 0a3.2 3.2 0 1 0 -6.4 0M533.7 344.1a3.2 3.2 0 1 0 6.4 0a3.2 3.2 0 1 0 -6.4 0M564.8 346.8a3.2 3.2 0 1 0 6.4 0a3.2 3.2 0 1 0 -6.4 0M65.4 387.8a3.2 3.2 0 1 0 6.4 0a3.2 3.2 0 1 0 -6.4 0M84.3 384.1a3.2 3.2 0 1 0 6.4 0a3.2 3.2 0 1 0 -6.4 0M185.1 382.9a3.2 3.2 0 1 0 6.4 0a3.2 3.2 0 1 0 -6.4 0M207.8 380.6a3.2 3.2 0 1 0 6.4 0a3.2 3.2 0 1 0 -6.4 0M219.2 378.4a3.2 3.2 0 1 0 6.4 0a3.2 3.2 0 1 0 -6.4 0M236.9 378.4a3.2 3.2 0 1 0 6.4 0a3.2 3.2 0 1 0 -6.4 0M247.2 380.3a3.2 3.2 0 1 0 6.4 0a3.2 3.2 0 1 0 -6.4 0M277.8 379.3a3.2 3.2 0 1 0 6.4 0a3.2 3.2 0 1 0 -6.4 0M316.4 362.1a3.2 3.2 0 1 0 6.4 0a3.2 3.2 0 1 0 -6.4 0M331.0 359.5a3.2 3.2 0 1 0 6.4 0a3.2 3.2 0 1 0 -6.4 0M347.5 355.7a3.2 3.2 0 1 0 6.4 0a3.2 3.2 0 1 0 -6.4 0M444.4 350.5a3.2 3.2 0 1 0 6.4 0a3.2 3.2 0 1 0 -6.4 0M455.9 355.5a3.2 3.2 0 1 0 6.4 0a3.2 3.2 0 1 0 -6.4 0M494.3 348.2a3.2 3.2 0 1 0 6.4 0a3.2 3.2 0 1 0 -6.4 0M510.5 347.2a3.2 3.2 0 1 0 6.4 0a3.2 3.2 0 1 0 -6.4 0M533.7 347.2a3.2 3.2 0 1 0 6.4 0a3.2 3.2 0 1 0 -6.4 0M564.8 346.8a3.2 3.2 0 1 0 6.4 0a3.2 3.2 0 1 0 -6.4 0M65.4 387.8a3.2 3.2 0 1 0 6.4 0a3.2 3.2 0 1 0 -6.4 0M84.3 387.5a3.2 3.2 0 1 0 6.4 0a3.2 3.2 0 1 0 -6.4 0M185.1 385.6a3.2 3.2 0 1 0 6.4 0a3.2 3.2 0 1 0 -6.4 0M207.8 385.6a3.2 3.2 0 1 0 6.4 0a3.2 3.2 0 1 0 -6.4 0M219.2 386.8a3.2 3.2 0 1 0 6.4 0a3.2 3.2 0 1 0 -6.4 0M236.9 385.3a3.2 3.2 0 1 0 6.4 0a3.2 3.2 0 1 0 -6.4 0M247.2 384.9a3.2 3.2 0 1 0 6.4 0a3.2 3.2 0 1 0 -6.4 0M277.8 382.7a3.2 3.2 0 1 0 6.4 0a3.2 3.2 0 1 0 -6.4 0M316.4 366.4a3.2 3.2 0 1 0 6.4 0a3.2 3.2 0 1 0 -6.4 0M331.0 363.8a3.2 3.2 0 1 0 6.4 0a3.2 3.2 0 1 0 -6.4 0M347.5 360.2a3.2 3.2 0 1 0 6.4 0a3.2 3.2 0 1 0 -6.4 0M444.4 354.6a3.2 3.2 0 1 0 6.4 0a3.2 3.2 0 1 0 -6.4 0M455.9 355.5a3.2 3.2 0 1 0 6.4 0a3.2 3.2 0 1 0 -6.4 0M474.6 351.3a3.2 3.2 0 1 0 6.4 0a3.2 3.2 0 1 0 -6.4 0M494.3 352.4a3.2 3.2 0 1 0 6.4 0a3.2 3.2 0 1 0 -6.4 0M510.5 352.4a3.2 3.2 0 1 0 6.4 0a3.2 3.2 0 1 0 -6.4 0M533.7 347.2a3.2 3.2 0 1 0 6.4 0a3.2 3.2 0 1 0 -6.4 0M564.8 346.8a3.2 3.2 0 1 0 6.4 0a3.2 3.2 0 1 0 -6.4 0M65.4 395.7a3.2 3.2 0 1 0 6.4 0a3.2 3.2 0 1 0 -6.4 0M84.3 394.4a3.2 3.2 0 1 0 6.4 0a3.2 3.2 0 1 0 -6.4 0M185.1 392.4a3.2 3.2 0 1 0 6.4 0a3.2 3.2 0 1 0 -6.4 0M207.8 393.5a3.2 3.2 0 1 0 6.4 0a3.2 3.2 0 1 0 -6.4 0M219.2 389.6a3.2 3.2 0 1 0 6.4 0a3.2 3.2 0 1 0 -6.4 0M236.9 392.0a3.2 3.2 0 1 0 6.4 0a3.2 3.2 0 1 0 -6.4 0M247.2 393.3a3.2 3.2 0 1 0 6.4 0a3.2 3.2 0 1 0 -6.4 0M277.8 388.7a3.2 3.2 0 1 0 6.4 0a3.2 3.2 0 1 0 -6.4 0M316.4 369.8a3.2 3.2 0 1 0 6.4 0a3.2 3.2 0 1 0 -6.4 0M331.0 367.3a3.2 3.2 0 1 0 6.4 0a3.2 3.2 0 1 0 -6.4 0M347.5 363.6a3.2 3.2 0 1 0 6.4 0a3.2 3.2 0 1 0 -6.4 0M444.4 354.6a3.2 3.2 0 1 0 6.4 0a3.2 3.2 0 1 0 -6.4 0M455.9 347.2a3.2 3.2 0 1 0 6.4 0a3.2 3.2 0 1 0 -6.4 0M474.6 354.4a3.2 3.2 0 1 0 6.4 0a3.2 3.2 0 1 0 -6.4 0M494.3 355.5a3.2 3.2 0 1 0 6.4 0a3.2 3.2 0 1 0 -6.4 0M510.5 352.4a3.2 3.2 0 1 0 6.4 0a3.2 3.2 0 1 0 -6.4 0M533.7 344.1a3.2 3.2 0 1 0 6.4 0a3.2 3.2 0 1 0 -6.4 0M564.8 339.9a3.2 3.2 0 1 0 6.4 0a3.2 3.2 0 1 0 -6.4 0M65.4 403.4a3.2 3.2 0 1 0 6.4 0a3.2 3.2 0 1 0 -6.4 0M84.3 406.4a3.2 3.2 0 1 0 6.4 0a3.2 3.2 0 1 0 -6.4 0M185.1 403.2a3.2 3.2 0 1 0 6.4 0a3.2 3.2 0 1 0 -6.4 0M207.8 407.1a3.2 3.2 0 1 0 6.4 0a3.2 3.2 0 1 0 -6.4 0M219.2 404.5a3.2 3.2 0 1 0 6.4 0a3.2 3.2 0 1 0 -6.4 0M236.9 402.6a3.2 3.2 0 1 0 6.4 0a3.2 3.2 0 1 0 -6.4 0M247.2 402.2a3.2 3.2 0 1 0 6.4 0a3.2 3.2 0 1 0 -6.4 0M277.8 398.5a3.2 3.2 0 1 0 6.4 0a3.2 3.2 0 1 0 -6.4 0M316.4 385.3a3.2 3.2 0 1 0 6.4 0a3.2 3.2 0 1 0 -6.4 0M331.0 369.8a3.2 3.2 0 1 0 6.4 0a3.2 3.2 0 1 0 -6.4 0M347.5 362.1a3.2 3.2 0 1 0 6.4 0a3.2 3.2 0 1 0 -6.4 0M444.4 352.3a3.2 3.2 0 1 0 6.4 0a3.2 3.2 0 1 0 -6.4 0M455.9 355.5a3.2 3.2 0 1 0 6.4 0a3.2 3.2 0 1 0 -6.4 0M474.6 354.4a3.2 3.2 0 1 0 6.4 0a3.2 3.2 0 1 0 -6.4 0M494.3 355.5a3.2 3.2 0 1 0 6.4 0a3.2 3.2 0 1 0 -6.4 0M510.5 352.4a3.2 3.2 0 1 0 6.4 0a3.2 3.2 0 1 0 -6.4 0M533.7 347.2a3.2 3.2 0 1 0 6.4 0a3.2 3.2 0 1 0 -6.4 0M564.8 346.8a3.2 3.2 0 1 0 6.4 0a3.2 3.2 0 1 0 -6.4 0" fill="none" stroke="#2c7bb6" stroke-width="1.6"/>
<path d="M428.3 311.5a3.9 3.9 0 1 0 7.8 0a3.9 3.9 0 1 0 -7.8 0M464.5 296.3a3.9 3.9 0 1 0 7.8 0a3.9 3.9 0 1 0 -7.8 0M486.3 300.5a3.9 3.9 0 1 0 7.8 0a3.9 3.9 0 1 0 -7.8 0M533.0 316.1a3.9 3.9 0 1 0 7.8 0a3.9 3.9 0 1 0 -7.8 0M135.3 339.2a3.9 3.9 0 1 0 7.8 0a3.9 3.9 0 1 0 -7.8 0M213.0 326.7a3.9 3.9 0 1 0 7.8 0a3.9 3.9 0 1 0 -7.8 0M269.4 313.2a3.9 3.9 0 1 0 7.8 0a3.9 3.9 0 1 0 -7.8 0M302.9 310.6a3.9 3.9 0 1 0 7.8 0a3.9 3.9 0 1 0 -7.8 0M335.5 305.8a3.9 3.9 0 1 0 7.8 0a3.9 3.9 0 1 0 -7.8 0M218.5 341.2a3.9 3.9 0 1 0 7.8 0a3.9 3.9 0 1 0 -7.8 0M243.1 341.7a3.9 3.9 0 1 0 7.8 0a3.9 3.9 0 1 0 -7.8 0M277.1 336.4a3.9 3.9 0 1 0 7.8 0a3.9 3.9 0 1 0 -7.8 0M315.7 314.9a3.9 3.9 0 1 0 7.8 0a3.9 3.9 0 1 0 -7.8 0M455.2 335.8a3.9 3.9 0 1 0 7.8 0a3.9 3.9 0 1 0 -7.8 0M509.8 344.1a3.9 3.9 0 1 0 7.8 0a3.9 3.9 0 1 0 -7.8 0M473.9 347.2a3.9 3.9 0 1 0 7.8 0a3.9 3.9 0 1 0 -7.8 0" fill="#2c7bb6" stroke="none"/>
<rect x="223.5" y="252.4" width="127.0" height="170.95000000000002" fill="#000" fill-opacity="0.2"/>
<rect x="465.1" y="252.4" width="108.39999999999998" height="170.95000000000002" fill="#000" fill-opacity="0.1"/>
<line x1="223.5" y1="252.4" x2="223.5" y2="423.35" stroke="#333" stroke-width="1.0"/>
<line x1="350.5" y1="252.4" x2="350.5" y2="423.35" stroke="#000" stroke-width="1.2"/>
<line x1="465.1" y1="252.4" x2="465.1" y2="423.35" stroke="#4d4d4d" stroke-width="1.4"/>
<path d="M103.3 423.35V412.55M103.3 401.15V390.35M103.3 378.95V368.15M103.3 356.75V345.95M103.3 334.55V323.75M103.3 312.35V301.55M103.3 290.15V279.35M103.3 267.95V257.15" stroke="#000" stroke-width="2.8" fill="none"/>
<path d="M451.7 423.35V412.55M451.7 401.15V390.35M451.7 378.95V368.15M451.7 356.75V345.95M451.7 334.55V323.75M451.7 312.35V301.55M451.7 290.15V279.35M451.7 267.95V257.15" stroke="#000" stroke-width="2.8" fill="none"/>
<text x="42.60" y="440.75" font-size="12" text-anchor="middle" fill="#111">2250</text>
<text x="163.50" y="440.75" font-size="12" text-anchor="middle" fill="#111">1750</text>
<text x="284.30" y="440.75" font-size="12" text-anchor="middle" fill="#111">1250</text>
<text x="404.60" y="440.75" font-size="12" text-anchor="middle" fill="#111">750</text>
<text x="525.50" y="440.75" font-size="12" text-anchor="middle" fill="#111">250</text>
<text x="37.2" y="427.65" font-size="12" text-anchor="end" fill="#111">80</text>
<text x="37.2" y="399.16" font-size="12" text-anchor="end" fill="#111">100</text>
<text x="37.2" y="370.67" font-size="12" text-anchor="end" fill="#111">120</text>
<text x="37.2" y="342.18" font-size="12" text-anchor="end" fill="#111">140</text>
<text x="37.2" y="313.68" font-size="12" text-anchor="end" fill="#111">160</text>
<text x="37.2" y="285.19" font-size="12" text-anchor="end" fill="#111">180</text>
<text x="37.2" y="256.70" font-size="12" text-anchor="end" fill="#111">200</text>
<text x="308.5" y="458.65" font-size="13.6" text-anchor="middle" fill="#111">Distance (m)</text>
<text transform="translate(10.1 337.88) rotate(-90)" x="0" y="0" font-size="13.25" text-anchor="middle" fill="#111">Sodium (mg/L)</text>
<text x="49" y="280.70" font-size="18.5" fill="#000">b</text>
</g>
<g id="panel-c">
<path d="M42.5 490.5H573.5V661.35H42.5Z" fill="none" stroke="#4a4a4a" stroke-width="1.1"/>
<path d="M42.60 661.35v-5.8M42.60 490.5v5.8M163.50 661.35v-5.8M163.50 490.5v5.8M284.30 661.35v-5.8M284.30 490.5v5.8M404.60 661.35v-5.8M404.60 490.5v5.8M525.50 661.35v-5.8M525.50 490.5v5.8M42.5 661.35h5.8M573.5 661.35h-5.8M42.5 618.64h5.8M573.5 618.64h-5.8M42.5 575.93h5.8M573.5 575.93h-5.8M42.5 533.21h5.8M573.5 533.21h-5.8M42.5 490.50h5.8M573.5 490.50h-5.8" stroke="#333" stroke-width="1" fill="none"/>
<path d="M42.8 547.2 L65.7 544.7 L88.0 535.6 L188.0 503.9 L210.3 547.6 L222.4 540.2 L247.3 545.7 L281.0 541.0 L319.9 567.0 L351.3 580.0 L446.9 588.3 L459.4 592.0 L477.8 591.1 L497.5 594.2 L513.7 594.2 L536.9 593.2 L556.2 594.2 M42.8 540.1 L65.7 536.6 L88.0 538.1 L188.0 547.6 L210.3 556.0 L222.4 548.6 L240.2 548.6 L247.3 550.0 L262.4 552.2 L281.0 559.1 L319.9 571.7 L334.5 573.3 L351.3 590.6 L446.9 596.2 L459.4 599.4 L477.8 598.4 L497.5 599.4 L513.7 602.5 L536.9 605.6 L556.2 605.6 L568.0 604.6 M42.8 541.1 L65.7 540.6 L88.0 544.2 L188.0 554.1 L210.3 563.4 L222.4 554.3 L240.2 551.5 L247.3 555.8 L281.0 567.0 L319.9 580.4 L334.5 575.7 L351.3 596.2 L446.9 601.9 L459.4 604.6 L477.8 606.6 L497.5 570.8 L513.7 606.6 L536.9 610.8 L568.0 613.5 M42.8 554.3 L65.7 553.3 L88.0 550.7 L188.0 558.7 L210.3 568.0 L222.4 560.8 L240.2 556.5 L247.3 560.8 L262.4 563.6 L281.0 571.7 L319.9 585.9 L334.5 584.3 L351.3 601.9 L446.9 611.0 L459.4 614.9 L477.8 613.9 L497.5 614.9 L513.7 617.0 L536.9 619.1 L556.2 621.8 L568.0 621.8 M42.8 555.8 L65.7 556.3 L88.0 559.3 L188.0 562.4 L210.3 571.7 L222.4 568.0 L240.2 562.9 L247.3 565.1 L281.0 579.6 L319.9 590.6 L334.5 592.2 L351.3 607.6 L446.9 618.9 L459.4 618.0 L477.8 617.0 L497.5 620.1 L513.7 622.2 L536.9 628.4 L556.2 629.4 L568.0 630.5 M42.8 565.9 L68.3 563.9 L88.0 565.0 L188.0 557.0 L210.3 563.4 L222.4 568.0 L240.2 570.8 L250.2 576.5 L281.0 571.7 L319.9 596.9 L334.5 596.1 L351.3 607.6 L446.9 621.2 L459.4 623.2 L477.8 622.2 L497.5 625.3 L513.7 627.4 L536.9 628.4 L556.2 629.4 L568.0 631.5 M42.8 570.9 L68.3 570.4 L88.0 568.0 L188.0 562.4 L210.3 556.0 L222.4 560.8 L240.2 562.9 L247.3 560.8 L281.0 567.0 L319.9 580.4 L334.5 584.3 L351.3 596.2 L446.9 601.9 L459.4 606.6 L477.8 606.6 L497.5 602.5 L513.7 606.6 L536.9 605.6 L556.2 605.6 L568.0 604.6 M68.3 567.9 L88.0 571.0 L188.0 570.8 L210.3 571.7 L222.4 575.5 L240.2 575.8 L247.3 570.1 L281.0 571.7 L319.9 590.6 L334.5 592.2 L351.3 601.9 L446.9 611.0 L459.4 615.5 L477.8 627.4 L497.5 630.5 L513.7 627.4 L536.9 628.4 L556.2 629.4 L568.0 630.5 M65.7 558.8 L88.0 566.5 L188.0 570.8 L210.3 568.0 L222.4 575.5 L240.2 570.8 L247.3 570.1 L281.0 571.7 L319.9 585.9 L334.5 584.3 L351.3 596.2 L446.9 611.0 L459.4 625.3 L477.8 617.0 L497.5 614.9 L513.7 617.0 L536.9 619.1 L556.2 621.8 L568.0 621.8 M42.8 590.7 L88.5 590.1 L188.0 578.2 L222.4 600.5 L281.0 598.5 L351.3 616.6 L446.9 621.2 L459.4 624.6 L477.8 622.2 L497.5 625.3 L513.7 622.2 L536.9 628.4 L568.0 630.5 M139.1 609.1 L216.2 615.4 L273.1 618.7 L307.3 625.3 L339.3 634.7 L432.2 641.1 L468.5 642.0 L490.2 641.9 L535.8 641.9 L574.0 637.0" fill="none" stroke="#4aae4a" stroke-width="1.7" stroke-linejoin="round"/>
<path d="M62.5 544.7a3.2 3.2 0 1 0 6.4 0a3.2 3.2 0 1 0 -6.4 0M84.8 535.6a3.2 3.2 0 1 0 6.4 0a3.2 3.2 0 1 0 -6.4 0M184.8 503.9a3.2 3.2 0 1 0 6.4 0a3.2 3.2 0 1 0 -6.4 0M219.2 540.2a3.2 3.2 0 1 0 6.4 0a3.2 3.2 0 1 0 -6.4 0M244.1 545.7a3.2 3.2 0 1 0 6.4 0a3.2 3.2 0 1 0 -6.4 0M277.8 541.0a3.2 3.2 0 1 0 6.4 0a3.2 3.2 0 1 0 -6.4 0M316.7 567.0a3.2 3.2 0 1 0 6.4 0a3.2 3.2 0 1 0 -6.4 0M348.1 580.0a3.2 3.2 0 1 0 6.4 0a3.2 3.2 0 1 0 -6.4 0M443.7 588.3a3.2 3.2 0 1 0 6.4 0a3.2 3.2 0 1 0 -6.4 0M456.2 592.0a3.2 3.2 0 1 0 6.4 0a3.2 3.2 0 1 0 -6.4 0M474.6 591.1a3.2 3.2 0 1 0 6.4 0a3.2 3.2 0 1 0 -6.4 0M494.3 594.2a3.2 3.2 0 1 0 6.4 0a3.2 3.2 0 1 0 -6.4 0M510.5 594.2a3.2 3.2 0 1 0 6.4 0a3.2 3.2 0 1 0 -6.4 0M533.7 593.2a3.2 3.2 0 1 0 6.4 0a3.2 3.2 0 1 0 -6.4 0M553.0 594.2a3.2 3.2 0 1 0 6.4 0a3.2 3.2 0 1 0 -6.4 0M62.5 536.6a3.2 3.2 0 1 0 6.4 0a3.2 3.2 0 1 0 -6.4 0M84.8 538.1a3.2 3.2 0 1 0 6.4 0a3.2 3.2 0 1 0 -6.4 0M184.8 547.6a3.2 3.2 0 1 0 6.4 0a3.2 3.2 0 1 0 -6.4 0M207.1 556.0a3.2 3.2 0 1 0 6.4 0a3.2 3.2 0 1 0 -6.4 0M219.2 548.6a3.2 3.2 0 1 0 6.4 0a3.2 3.2 0 1 0 -6.4 0M237.0 548.6a3.2 3.2 0 1 0 6.4 0a3.2 3.2 0 1 0 -6.4 0M244.1 550.0a3.2 3.2 0 1 0 6.4 0a3.2 3.2 0 1 0 -6.4 0M259.2 552.2a3.2 3.2 0 1 0 6.4 0a3.2 3.2 0 1 0 -6.4 0M277.8 559.1a3.2 3.2 0 1 0 6.4 0a3.2 3.2 0 1 0 -6.4 0M316.7 571.7a3.2 3.2 0 1 0 6.4 0a3.2 3.2 0 1 0 -6.4 0M348.1 590.6a3.2 3.2 0 1 0 6.4 0a3.2 3.2 0 1 0 -6.4 0M443.7 596.2a3.2 3.2 0 1 0 6.4 0a3.2 3.2 0 1 0 -6.4 0M456.2 599.4a3.2 3.2 0 1 0 6.4 0a3.2 3.2 0 1 0 -6.4 0M474.6 598.4a3.2 3.2 0 1 0 6.4 0a3.2 3.2 0 1 0 -6.4 0M494.3 599.4a3.2 3.2 0 1 0 6.4 0a3.2 3.2 0 1 0 -6.4 0M510.5 602.5a3.2 3.2 0 1 0 6.4 0a3.2 3.2 0 1 0 -6.4 0M533.7 605.6a3.2 3.2 0 1 0 6.4 0a3.2 3.2 0 1 0 -6.4 0M553.0 605.6a3.2 3.2 0 1 0 6.4 0a3.2 3.2 0 1 0 -6.4 0M564.8 604.6a3.2 3.2 0 1 0 6.4 0a3.2 3.2 0 1 0 -6.4 0M62.5 540.6a3.2 3.2 0 1 0 6.4 0a3.2 3.2 0 1 0 -6.4 0M84.8 544.2a3.2 3.2 0 1 0 6.4 0a3.2 3.2 0 1 0 -6.4 0M184.8 554.1a3.2 3.2 0 1 0 6.4 0a3.2 3.2 0 1 0 -6.4 0M207.1 563.4a3.2 3.2 0 1 0 6.4 0a3.2 3.2 0 1 0 -6.4 0M219.2 554.3a3.2 3.2 0 1 0 6.4 0a3.2 3.2 0 1 0 -6.4 0M237.0 551.5a3.2 3.2 0 1 0 6.4 0a3.2 3.2 0 1 0 -6.4 0M244.1 555.8a3.2 3.2 0 1 0 6.4 0a3.2 3.2 0 1 0 -6.4 0M277.8 567.0a3.2 3.2 0 1 0 6.4 0a3.2 3.2 0 1 0 -6.4 0M316.7 580.4a3.2 3.2 0 1 0 6.4 0a3.2 3.2 0 1 0 -6.4 0M331.3 575.7a3.2 3.2 0 1 0 6.4 0a3.2 3.2 0 1 0 -6.4 0M348.1 596.2a3.2 3.2 0 1 0 6.4 0a3.2 3.2 0 1 0 -6.4 0M443.7 601.9a3.2 3.2 0 1 0 6.4 0a3.2 3.2 0 1 0 -6.4 0M474.6 606.6a3.2 3.2 0 1 0 6.4 0a3.2 3.2 0 1 0 -6.4 0M494.3 570.8a3.2 3.2 0 1 0 6.4 0a3.2 3.2 0 1 0 -6.4 0M510.5 606.6a3.2 3.2 0 1 0 6.4 0a3.2 3.2 0 1 0 -6.4 0M533.7 610.8a3.2 3.2 0 1 0 6.4 0a3.2 3.2 0 1 0 -6.4 0M564.8 613.5a3.2 3.2 0 1 0 6.4 0a3.2 3.2 0 1 0 -6.4 0M62.5 553.3a3.2 3.2 0 1 0 6.4 0a3.2 3.2 0 1 0 -6.4 0M84.8 550.7a3.2 3.2 0 1 0 6.4 0a3.2 3.2 0 1 0 -6.4 0M184.8 558.7a3.2 3.2 0 1 0 6.4 0a3.2 3.2 0 1 0 -6.4 0M207.1 568.0a3.2 3.2 0 1 0 6.4 0a3.2 3.2 0 1 0 -6.4 0M219.2 560.8a3.2 3.2 0 1 0 6.4 0a3.2 3.2 0 1 0 -6.4 0M237.0 556.5a3.2 3.2 0 1 0 6.4 0a3.2 3.2 0 1 0 -6.4 0M244.1 560.8a3.2 3.2 0 1 0 6.4 0a3.2 3.2 0 1 0 -6.4 0M277.8 571.7a3.2 3.2 0 1 0 6.4 0a3.2 3.2 0 1 0 -6.4 0M316.7 585.9a3.2 3.2 0 1 0 6.4 0a3.2 3.2 0 1 0 -6.4 0M331.3 584.3a3.2 3.2 0 1 0 6.4 0a3.2 3.2 0 1 0 -6.4 0M348.1 601.9a3.2 3.2 0 1 0 6.4 0a3.2 3.2 0 1 0 -6.4 0M443.7 611.0a3.2 3.2 0 1 0 6.4 0a3.2 3.2 0 1 0 -6.4 0M456.2 614.9a3.2 3.2 0 1 0 6.4 0a3.2 3.2 0 1 0 -6.4 0M494.3 614.9a3.2 3.2 0 1 0 6.4 0a3.2 3.2 0 1 0 -6.4 0M553.0 621.8a3.2 3.2 0 1 0 6.4 0a3.2 3.2 0 1 0 -6.4 0M564.8 621.8a3.2 3.2 0 1 0 6.4 0a3.2 3.2 0 1 0 -6.4 0M62.5 556.3a3.2 3.2 0 1 0 6.4 0a3.2 3.2 0 1 0 -6.4 0M84.8 559.3a3.2 3.2 0 1 0 6.4 0a3.2 3.2 0 1 0 -6.4 0M184.8 562.4a3.2 3.2 0 1 0 6.4 0a3.2 3.2 0 1 0 -6.4 0M207.1 571.7a3.2 3.2 0 1 0 6.4 0a3.2 3.2 0 1 0 -6.4 0M219.2 568.0a3.2 3.2 0 1 0 6.4 0a3.2 3.2 0 1 0 -6.4 0M237.0 562.9a3.2 3.2 0 1 0 6.4 0a3.2 3.2 0 1 0 -6.4 0M244.1 565.1a3.2 3.2 0 1 0 6.4 0a3.2 3.2 0 1 0 -6.4 0M277.8 579.6a3.2 3.2 0 1 0 6.4 0a3.2 3.2 0 1 0 -6.4 0M316.7 590.6a3.2 3.2 0 1 0 6.4 0a3.2 3.2 0 1 0 -6.4 0M331.3 592.2a3.2 3.2 0 1 0 6.4 0a3.2 3.2 0 1 0 -6.4 0M348.1 607.6a3.2 3.2 0 1 0 6.4 0a3.2 3.2 0 1 0 -6.4 0M443.7 618.9a3.2 3.2 0 1 0 6.4 0a3.2 3.2 0 1 0 -6.4 0M456.2 618.0a3.2 3.2 0 1 0 6.4 0a3.2 3.2 0 1 0 -6.4 0M474.6 617.0a3.2 3.2 0 1 0 6.4 0a3.2 3.2 0 1 0 -6.4 0M494.3 620.1a3.2 3.2 0 1 0 6.4 0a3.2 3.2 0 1 0 -6.4 0M510.5 622.2a3.2 3.2 0 1 0 6.4 0a3.2 3.2 0 1 0 -6.4 0M553.0 629.4a3.2 3.2 0 1 0 6.4 0a3.2 3.2 0 1 0 -6.4 0M564.8 630.5a3.2 3.2 0 1 0 6.4 0a3.2 3.2 0 1 0 -6.4 0M65.1 563.9a3.2 3.2 0 1 0 6.4 0a3.2 3.2 0 1 0 -6.4 0M84.8 565.0a3.2 3.2 0 1 0 6.4 0a3.2 3.2 0 1 0 -6.4 0M184.8 557.0a3.2 3.2 0 1 0 6.4 0a3.2 3.2 0 1 0 -6.4 0M207.1 563.4a3.2 3.2 0 1 0 6.4 0a3.2 3.2 0 1 0 -6.4 0M219.2 568.0a3.2 3.2 0 1 0 6.4 0a3.2 3.2 0 1 0 -6.4 0M237.0 570.8a3.2 3.2 0 1 0 6.4 0a3.2 3.2 0 1 0 -6.4 0M247.0 576.5a3.2 3.2 0 1 0 6.4 0a3.2 3.2 0 1 0 -6.4 0M277.8 571.7a3.2 3.2 0 1 0 6.4 0a3.2 3.2 0 1 0 -6.4 0M316.7 596.9a3.2 3.2 0 1 0 6.4 0a3.2 3.2 0 1 0 -6.4 0M331.3 596.1a3.2 3.2 0 1 0 6.4 0a3.2 3.2 0 1 0 -6.4 0M348.1 607.6a3.2 3.2 0 1 0 6.4 0a3.2 3.2 0 1 0 -6.4 0M443.7 621.2a3.2 3.2 0 1 0 6.4 0a3.2 3.2 0 1 0 -6.4 0M456.2 623.2a3.2 3.2 0 1 0 6.4 0a3.2 3.2 0 1 0 -6.4 0M474.6 622.2a3.2 3.2 0 1 0 6.4 0a3.2 3.2 0 1 0 -6.4 0M494.3 625.3a3.2 3.2 0 1 0 6.4 0a3.2 3.2 0 1 0 -6.4 0M510.5 627.4a3.2 3.2 0 1 0 6.4 0a3.2 3.2 0 1 0 -6.4 0M553.0 629.4a3.2 3.2 0 1 0 6.4 0a3.2 3.2 0 1 0 -6.4 0M65.1 570.4a3.2 3.2 0 1 0 6.4 0a3.2 3.2 0 1 0 -6.4 0M84.8 568.0a3.2 3.2 0 1 0 6.4 0a3.2 3.2 0 1 0 -6.4 0M184.8 562.4a3.2 3.2 0 1 0 6.4 0a3.2 3.2 0 1 0 -6.4 0M207.1 556.0a3.2 3.2 0 1 0 6.4 0a3.2 3.2 0 1 0 -6.4 0M219.2 560.8a3.2 3.2 0 1 0 6.4 0a3.2 3.2 0 1 0 -6.4 0M237.0 562.9a3.2 3.2 0 1 0 6.4 0a3.2 3.2 0 1 0 -6.4 0M244.1 560.8a3.2 3.2 0 1 0 6.4 0a3.2 3.2 0 1 0 -6.4 0M277.8 567.0a3.2 3.2 0 1 0 6.4 0a3.2 3.2 0 1 0 -6.4 0M316.7 580.4a3.2 3.2 0 1 0 6.4 0a3.2 3.2 0 1 0 -6.4 0M331.3 584.3a3.2 3.2 0 1 0 6.4 0a3.2 3.2 0 1 0 -6.4 0M348.1 596.2a3.2 3.2 0 1 0 6.4 0a3.2 3.2 0 1 0 -6.4 0M443.7 601.9a3.2 3.2 0 1 0 6.4 0a3.2 3.2 0 1 0 -6.4 0M456.2 606.6a3.2 3.2 0 1 0 6.4 0a3.2 3.2 0 1 0 -6.4 0M474.6 606.6a3.2 3.2 0 1 0 6.4 0a3.2 3.2 0 1 0 -6.4 0M494.3 602.5a3.2 3.2 0 1 0 6.4 0a3.2 3.2 0 1 0 -6.4 0M510.5 606.6a3.2 3.2 0 1 0 6.4 0a3.2 3.2 0 1 0 -6.4 0M533.7 605.6a3.2 3.2 0 1 0 6.4 0a3.2 3.2 0 1 0 -6.4 0M553.0 605.6a3.2 3.2 0 1 0 6.4 0a3.2 3.2 0 1 0 -6.4 0M564.8 604.6a3.2 3.2 0 1 0 6.4 0a3.2 3.2 0 1 0 -6.4 0M65.1 567.9a3.2 3.2 0 1 0 6.4 0a3.2 3.2 0 1 0 -6.4 0M84.8 571.0a3.2 3.2 0 1 0 6.4 0a3.2 3.2 0 1 0 -6.4 0M184.8 570.8a3.2 3.2 0 1 0 6.4 0a3.2 3.2 0 1 0 -6.4 0M207.1 571.7a3.2 3.2 0 1 0 6.4 0a3.2 3.2 0 1 0 -6.4 0M219.2 575.5a3.2 3.2 0 1 0 6.4 0a3.2 3.2 0 1 0 -6.4 0M237.0 575.8a3.2 3.2 0 1 0 6.4 0a3.2 3.2 0 1 0 -6.4 0M244.1 570.1a3.2 3.2 0 1 0 6.4 0a3.2 3.2 0 1 0 -6.4 0M277.8 571.7a3.2 3.2 0 1 0 6.4 0a3.2 3.2 0 1 0 -6.4 0M316.7 590.6a3.2 3.2 0 1 0 6.4 0a3.2 3.2 0 1 0 -6.4 0M331.3 592.2a3.2 3.2 0 1 0 6.4 0a3.2 3.2 0 1 0 -6.4 0M348.1 601.9a3.2 3.2 0 1 0 6.4 0a3.2 3.2 0 1 0 -6.4 0M443.7 611.0a3.2 3.2 0 1 0 6.4 0a3.2 3.2 0 1 0 -6.4 0M456.2 615.5a3.2 3.2 0 1 0 6.4 0a3.2 3.2 0 1 0 -6.4 0M474.6 627.4a3.2 3.2 0 1 0 6.4 0a3.2 3.2 0 1 0 -6.4 0M494.3 630.5a3.2 3.2 0 1 0 6.4 0a3.2 3.2 0 1 0 -6.4 0M510.5 627.4a3.2 3.2 0 1 0 6.4 0a3.2 3.2 0 1 0 -6.4 0M533.7 628.4a3.2 3.2 0 1 0 6.4 0a3.2 3.2 0 1 0 -6.4 0M553.0 629.4a3.2 3.2 0 1 0 6.4 0a3.2 3.2 0 1 0 -6.4 0M564.8 630.5a3.2 3.2 0 1 0 6.4 0a3.2 3.2 0 1 0 -6.4 0M62.5 558.8a3.2 3.2 0 1 0 6.4 0a3.2 3.2 0 1 0 -6.4 0M84.8 566.5a3.2 3.2 0 1 0 6.4 0a3.2 3.2 0 1 0 -6.4 0M184.8 570.8a3.2 3.2 0 1 0 6.4 0a3.2 3.2 0 1 0 -6.4 0M207.1 568.0a3.2 3.2 0 1 0 6.4 0a3.2 3.2 0 1 0 -6.4 0M219.2 575.5a3.2 3.2 0 1 0 6.4 0a3.2 3.2 0 1 0 -6.4 0M237.0 570.8a3.2 3.2 0 1 0 6.4 0a3.2 3.2 0 1 0 -6.4 0M244.1 570.1a3.2 3.2 0 1 0 6.4 0a3.2 3.2 0 1 0 -6.4 0M277.8 571.7a3.2 3.2 0 1 0 6.4 0a3.2 3.2 0 1 0 -6.4 0M316.7 585.9a3.2 3.2 0 1 0 6.4 0a3.2 3.2 0 1 0 -6.4 0M331.3 584.3a3.2 3.2 0 1 0 6.4 0a3.2 3.2 0 1 0 -6.4 0M348.1 596.2a3.2 3.2 0 1 0 6.4 0a3.2 3.2 0 1 0 -6.4 0M443.7 611.0a3.2 3.2 0 1 0 6.4 0a3.2 3.2 0 1 0 -6.4 0M456.2 625.3a3.2 3.2 0 1 0 6.4 0a3.2 3.2 0 1 0 -6.4 0M474.6 617.0a3.2 3.2 0 1 0 6.4 0a3.2 3.2 0 1 0 -6.4 0M494.3 614.9a3.2 3.2 0 1 0 6.4 0a3.2 3.2 0 1 0 -6.4 0M510.5 617.0a3.2 3.2 0 1 0 6.4 0a3.2 3.2 0 1 0 -6.4 0M533.7 619.1a3.2 3.2 0 1 0 6.4 0a3.2 3.2 0 1 0 -6.4 0M553.0 621.8a3.2 3.2 0 1 0 6.4 0a3.2 3.2 0 1 0 -6.4 0M564.8 621.8a3.2 3.2 0 1 0 6.4 0a3.2 3.2 0 1 0 -6.4 0M85.3 590.1a3.2 3.2 0 1 0 6.4 0a3.2 3.2 0 1 0 -6.4 0M184.8 578.2a3.2 3.2 0 1 0 6.4 0a3.2 3.2 0 1 0 -6.4 0M219.2 600.5a3.2 3.2 0 1 0 6.4 0a3.2 3.2 0 1 0 -6.4 0M277.8 598.5a3.2 3.2 0 1 0 6.4 0a3.2 3.2 0 1 0 -6.4 0M348.1 616.6a3.2 3.2 0 1 0 6.4 0a3.2 3.2 0 1 0 -6.4 0M443.7 621.2a3.2 3.2 0 1 0 6.4 0a3.2 3.2 0 1 0 -6.4 0M456.2 624.6a3.2 3.2 0 1 0 6.4 0a3.2 3.2 0 1 0 -6.4 0M474.6 622.2a3.2 3.2 0 1 0 6.4 0a3.2 3.2 0 1 0 -6.4 0M494.3 625.3a3.2 3.2 0 1 0 6.4 0a3.2 3.2 0 1 0 -6.4 0M510.5 622.2a3.2 3.2 0 1 0 6.4 0a3.2 3.2 0 1 0 -6.4 0M564.8 630.5a3.2 3.2 0 1 0 6.4 0a3.2 3.2 0 1 0 -6.4 0" fill="none" stroke="#4aae4a" stroke-width="1.6"/>
<path d="M206.4 547.6a3.9 3.9 0 1 0 7.8 0a3.9 3.9 0 1 0 -7.8 0M330.6 573.3a3.9 3.9 0 1 0 7.8 0a3.9 3.9 0 1 0 -7.8 0M455.5 604.6a3.9 3.9 0 1 0 7.8 0a3.9 3.9 0 1 0 -7.8 0M258.5 563.6a3.9 3.9 0 1 0 7.8 0a3.9 3.9 0 1 0 -7.8 0M473.9 613.9a3.9 3.9 0 1 0 7.8 0a3.9 3.9 0 1 0 -7.8 0M509.8 617.0a3.9 3.9 0 1 0 7.8 0a3.9 3.9 0 1 0 -7.8 0M533.0 619.1a3.9 3.9 0 1 0 7.8 0a3.9 3.9 0 1 0 -7.8 0M533.0 628.4a3.9 3.9 0 1 0 7.8 0a3.9 3.9 0 1 0 -7.8 0M533.0 628.4a3.9 3.9 0 1 0 7.8 0a3.9 3.9 0 1 0 -7.8 0M564.1 631.5a3.9 3.9 0 1 0 7.8 0a3.9 3.9 0 1 0 -7.8 0M533.0 628.4a3.9 3.9 0 1 0 7.8 0a3.9 3.9 0 1 0 -7.8 0M135.2 609.1a3.9 3.9 0 1 0 7.8 0a3.9 3.9 0 1 0 -7.8 0M212.3 615.4a3.9 3.9 0 1 0 7.8 0a3.9 3.9 0 1 0 -7.8 0M269.2 618.7a3.9 3.9 0 1 0 7.8 0a3.9 3.9 0 1 0 -7.8 0M303.4 625.3a3.9 3.9 0 1 0 7.8 0a3.9 3.9 0 1 0 -7.8 0M335.4 634.7a3.9 3.9 0 1 0 7.8 0a3.9 3.9 0 1 0 -7.8 0M428.3 641.1a3.9 3.9 0 1 0 7.8 0a3.9 3.9 0 1 0 -7.8 0M464.6 642.0a3.9 3.9 0 1 0 7.8 0a3.9 3.9 0 1 0 -7.8 0M486.3 641.9a3.9 3.9 0 1 0 7.8 0a3.9 3.9 0 1 0 -7.8 0M531.9 641.9a3.9 3.9 0 1 0 7.8 0a3.9 3.9 0 1 0 -7.8 0" fill="#4aae4a" stroke="none"/>
<rect x="223.5" y="490.5" width="127.0" height="170.85000000000002" fill="#000" fill-opacity="0.2"/>
<rect x="465.1" y="490.5" width="108.39999999999998" height="170.85000000000002" fill="#000" fill-opacity="0.1"/>
<line x1="223.5" y1="490.5" x2="223.5" y2="661.35" stroke="#333" stroke-width="1.0"/>
<line x1="350.5" y1="490.5" x2="350.5" y2="661.35" stroke="#000" stroke-width="1.2"/>
<line x1="465.1" y1="490.5" x2="465.1" y2="661.35" stroke="#4d4d4d" stroke-width="1.4"/>
<path d="M103.3 661.35V650.55M103.3 639.15V628.35M103.3 616.95V606.15M103.3 594.75V583.95M103.3 572.55V561.75M103.3 550.35V539.55M103.3 528.15V517.35M103.3 505.95V495.15" stroke="#000" stroke-width="2.8" fill="none"/>
<path d="M451.7 661.35V650.55M451.7 639.15V628.35M451.7 616.95V606.15M451.7 594.75V583.95M451.7 572.55V561.75M451.7 550.35V539.55M451.7 528.15V517.35M451.7 505.95V495.15" stroke="#000" stroke-width="2.8" fill="none"/>
<text x="42.60" y="678.75" font-size="12" text-anchor="middle" fill="#111">2250</text>
<text x="163.50" y="678.75" font-size="12" text-anchor="middle" fill="#111">1750</text>
<text x="284.30" y="678.75" font-size="12" text-anchor="middle" fill="#111">1250</text>
<text x="404.60" y="678.75" font-size="12" text-anchor="middle" fill="#111">750</text>
<text x="525.50" y="678.75" font-size="12" text-anchor="middle" fill="#111">250</text>
<text x="37.2" y="665.65" font-size="12" text-anchor="end" fill="#111">0.1</text>
<text x="37.2" y="622.94" font-size="12" text-anchor="end" fill="#111">0.2</text>
<text x="37.2" y="580.23" font-size="12" text-anchor="end" fill="#111">0.3</text>
<text x="37.2" y="537.51" font-size="12" text-anchor="end" fill="#111">0.4</text>
<text x="37.2" y="494.80" font-size="12" text-anchor="end" fill="#111">0.5</text>
<text x="308.5" y="696.65" font-size="13.6" text-anchor="middle" fill="#111">Distance (m)</text>
<text transform="translate(13.4 575.02) rotate(-90)" x="0" y="0" font-size="13.25" text-anchor="middle" fill="#111">Fluoride (mg/L)</text>
<text x="49" y="518.80" font-size="18.5" fill="#000">c</text>
</g>
<text x="287.8" y="63.4" font-size="18" text-anchor="middle">Cemetery</text>
<text x="518.6" y="149.2" font-size="18.2" text-anchor="middle">Residential</text>
<text x="287.8" y="288.5" font-size="18" text-anchor="middle">Cemetery</text>
<text x="518.6" y="400.8" font-size="18.2" text-anchor="middle">Residential</text>
<text x="287.8" y="646.6" font-size="18" text-anchor="middle">Cemetery</text>
<text x="518.6" y="539.8" font-size="18.2" text-anchor="middle">Residential</text>
<text transform="translate(81.1 91.4) rotate(-90)" font-size="12" text-anchor="middle">Upstream</text>
<text transform="translate(96.7 90.9) rotate(-90)" font-size="12" text-anchor="middle">Gauge</text>
<text transform="translate(415.2 138.6) rotate(-90)" font-size="12" text-anchor="middle">Down-</text>
<text transform="translate(431.1 138.5) rotate(-90)" font-size="12" text-anchor="middle">stream</text>
<text transform="translate(446.6 138.0) rotate(-90)" font-size="12" text-anchor="middle">Gauge</text>
</svg></body></html>
